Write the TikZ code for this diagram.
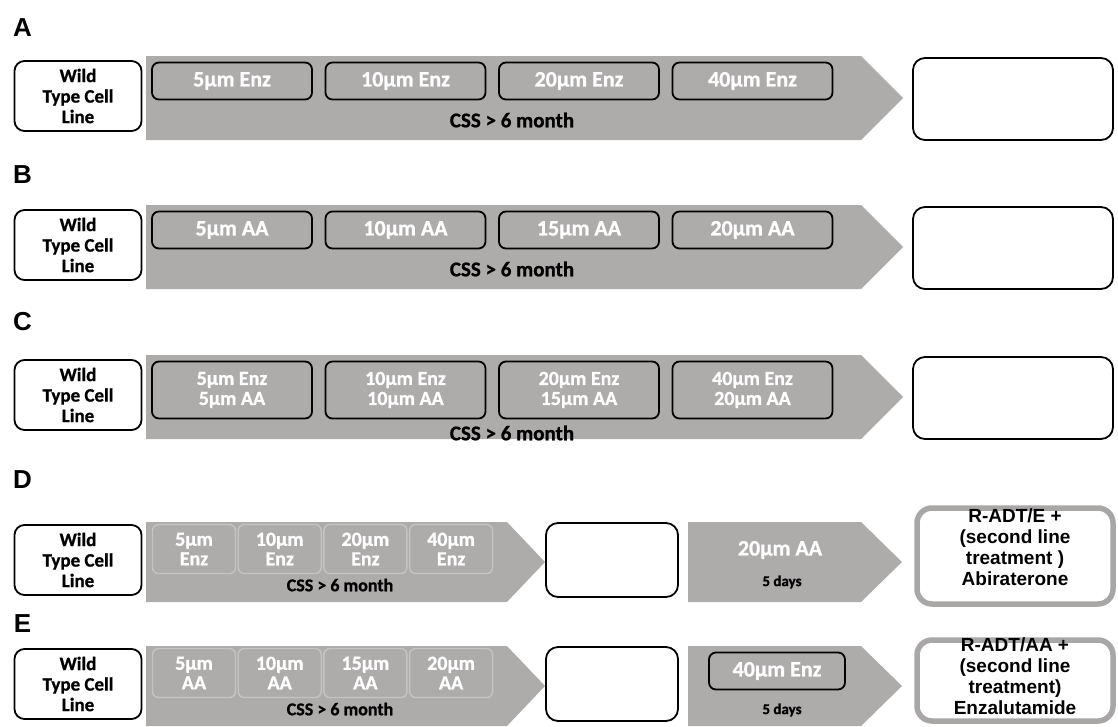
\documentclass[tikz,border=0pt]{standalone}
\usepackage{fontspec}
\setmainfont{Carlito}[BoldFont={Carlito Bold},BoldFeatures={FakeBold=0.9}]
\newfontfamily\headfont{Liberation Sans}[BoldFont={Liberation Sans Bold}]
\usetikzlibrary{calc,positioning}
\definecolor{ink}{HTML}{000000}
\definecolor{band}{HTML}{AEABAB}
\definecolor{tabline}{HTML}{C6C3C3}
\definecolor{frame}{HTML}{A9A6A6}
\tikzset{
  basebox/.style={draw=ink,line width=1.8pt,rounded corners=10pt,align=center,inner sep=2pt},
  wildbox/.style={basebox,fill=white,minimum width=127pt,minimum height=70pt,font=\bfseries\fontsize{19}{20.5}\selectfont},
  dosebox/.style={basebox,rounded corners=7pt,fill=band,text=white,minimum width=160pt,font=\bfseries\fontsize{22}{22}\selectfont},
  emptybox/.style={basebox,fill=white,rounded corners=12pt},
  thickbox/.style={basebox,draw=frame,line width=5.5pt,rounded corners=15pt,fill=white},
  tabbox/.style={draw=tabline,line width=1.4pt,rounded corners=6pt,minimum width=83pt,minimum height=49pt,align=center,inner sep=1pt,text=white,font=\bfseries\fontsize{20}{19.5}\selectfont},
  panel/.style={font=\headfont\bfseries\fontsize{26}{26}\selectfont},
  period/.style={font=\bfseries\fontsize{21}{21}\selectfont}
}
\begin{document}
\begin{tikzpicture}[x=1pt,y=-1pt,
    radt/.style={align=center,font=\headfont\bfseries\fontsize{19}{21}\selectfont},
    days/.style={font=\bfseries\fontsize{15}{15}\selectfont}
  ]
  \useasboundingbox (0,0) rectangle (1118,726);

  % panels A-C: one long treatment band each
  \foreach \t/\r in {56/A,205/B,355/C} {
    \fill[band] (146,\t) -- (861,\t) -- (903,\t+42) -- (861,\t+84) -- (146,\t+84) -- cycle;
    \node[wildbox] (wild\r) at (78,\t+40) {Wild\\Type Cell\\Line};
    \node[emptybox,minimum width=200pt,minimum height=82pt] (end\r) at (1013,\t+43) {};
  }
  \node[panel] (labA) at (22.5,27.5) {A};
  \node[panel] (labB) at (22.5,175) {B};
  \node[panel] (labC) at (22.5,322) {C};
  \node[panel] (labD) at (22.5,480) {D};
  \node[panel] (labE) at (22.5,624) {E};

  \foreach \i/\lab in {0/5µm Enz,1/10µm Enz,2/20µm Enz,3/40µm Enz} {
    \node[dosebox,minimum height=37pt] (doseA\i) at (232+173.5*\i,81) {\lab};
  }
  \foreach \i/\lab in {0/5µm AA,1/10µm AA,2/15µm AA,3/20µm AA} {
    \node[dosebox,minimum height=37pt] (doseB\i) at (232+173.5*\i,230) {\lab};
  }
  \foreach \i/\lab in {0/5µm Enz\\5µm AA,1/10µm Enz\\10µm AA,2/20µm Enz\\15µm AA,3/40µm Enz\\20µm AA} {
    \node[dosebox,minimum height=57pt,font=\bfseries\fontsize{20}{20}\selectfont] (doseC\i) at (232+173.5*\i,390) {\lab};
  }
  \node[period] (cssA) at (512,120) {CSS > 6 month};
  \node[period] (cssB) at (512,269) {CSS > 6 month};
  \node[period] (cssC) at (512,433) {CSS > 6 month};

  % panels D-E: short band, switch, second line band
  \foreach \t/\r in {522/D,646/E} {
    \fill[band] (146,\t) -- (507,\t) -- (545,\t+40) -- (507,\t+80) -- (146,\t+80) -- cycle;
    \fill[band] (688,\t) -- (861,\t) -- (902,\t+40) -- (861,\t+80) -- (688,\t+80) -- cycle;
    \node[wildbox] (wild\r) at (78,\t+38) {Wild\\Type Cell\\Line};
    \node[emptybox,minimum width=132pt,minimum height=74pt] (mid\r) at (612,\t+38) {};
    \node[period,font=\bfseries\fontsize{18}{18}\selectfont] (css\r) at (340,\t+63) {CSS > 6 month};
  }
  \foreach \i/\lab in {0/5µm\\Enz,1/10µm\\Enz,2/20µm\\Enz,3/40µm\\Enz} {
    \node[tabbox] (tabD\i) at (194+85.7*\i,549) {\lab};
  }
  \foreach \i/\lab in {0/5µm\\AA,1/10µm\\AA,2/15µm\\AA,3/20µm\\AA} {
    \node[tabbox] (tabE\i) at (194+85.7*\i,673) {\lab};
  }

  \node[text=white,font=\bfseries\fontsize{22}{22}\selectfont] (secD) at (780,550) {20µm AA};
  \node[days] (daysD) at (782,582) {5 days};
  \node[dosebox,minimum width=136pt,minimum height=37pt] (secE) at (777,671) {40µm Enz};
  \node[days] (daysE) at (782,710) {5 days};

  \node[thickbox,minimum width=196pt,minimum height=96pt] (radtD) at (1015,556) {};
  \node[radt] (radtDtxt) at (1015,547) {R-ADT/E +\\(second line\\treatment )\\Abiraterone};
  \node[thickbox,minimum width=196pt,minimum height=81pt] (radtE) at (1015,680.5) {};
  \node[radt] (radtEtxt) at (1015,676) {R-ADT/AA +\\(second line\\treatment)\\Enzalutamide};
\end{tikzpicture}
\end{document}
